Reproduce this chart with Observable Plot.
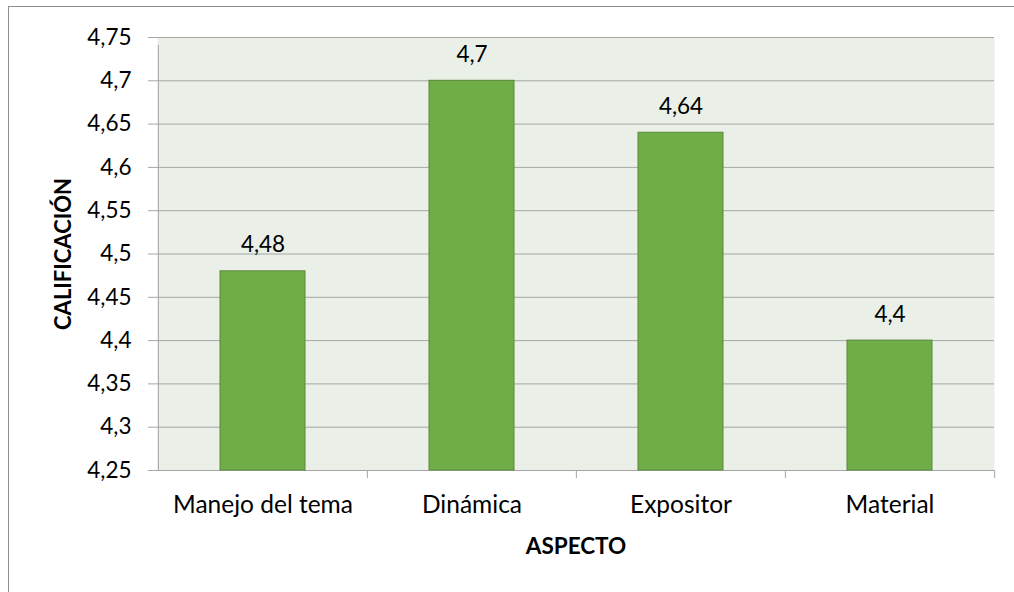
<!DOCTYPE html>
<html>
<head>
<meta charset="utf-8">
<script src="https://cdn.jsdelivr.net/npm/d3@7"></script>
<script src="https://cdn.jsdelivr.net/npm/@observablehq/plot@0.6"></script>
<style>
  html, body { margin: 0; padding: 0; background: #fff; overflow: hidden; }
  #wrap { position: relative; width: 1014px; height: 592px; }
  #border { position: absolute; left: 8px; top: 6px; width: 1100px; height: 700px; border: 1px solid #8c8c8c; pointer-events: none; }
  #chart { position: absolute; left: 0; top: 0; }
</style>
</head>
<body>
<div id="wrap"><div id="border"></div><div id="chart"></div></div>
<script>
const categories = ["Manejo del tema", "Dinámica", "Expositor", "Material"];
const values = [4.48, 4.7, 4.64, 4.4];
const valueLabels = ["4,48", "4,7", "4,64", "4,4"];
const yTicks = [4.25, 4.3, 4.35, 4.4, 4.45, 4.5, 4.55, 4.6, 4.65, 4.7, 4.75];
const yTickLabels = ["4,25", "4,3", "4,35", "4,4", "4,45", "4,5", "4,55", "4,6", "4,65", "4,7", "4,75"];
const yTitle = "CALIFICACIÓN";
const xTitle = "ASPECTO";

const W = 1014, H = 592, ML = 157, MR = 20, MT = 37, MB = 122;
const step = (W - ML - MR) / categories.length;
const data = categories.map((c, i) => ({cat: c, value: values[i], label: valueLabels[i]}));
const grid = "#a6a6a6";
const font = "Lato";

const chart = Plot.plot({
  width: W, height: H,
  marginLeft: ML, marginRight: MR, marginTop: MT, marginBottom: MB,
  style: {fontFamily: font, fontSize: "22px", color: "#000", background: "transparent"},
  x: {domain: categories, paddingInner: 0.594, paddingOuter: 0.297, label: null},
  y: {domain: [4.25, 4.75], label: null},
  marks: [
    Plot.frame({fill: "#eaefe7", stroke: null}),
    Plot.ruleY(yTicks, {stroke: grid, strokeWidth: 1}),
    Plot.axisY({ticks: yTicks, tickFormat: (d) => yTickLabels[yTicks.indexOf(d)], tickSize: 9, tickPadding: 17, stroke: grid, fontSize: 22.5, label: null}),
    Plot.axisX({tickSize: 0, tickPadding: 25, fontSize: 24.5, label: null}),
    Plot.ruleX([categories[0]], {x: (d) => d, y1: 4.25, y2: 4.75, dx: -step / 2, stroke: grid, insetBottom: -8}),
    Plot.ruleX(categories.slice(1), {x: (d) => d, y1: 4.25, y2: 4.25, dx: -step / 2, stroke: grid, insetBottom: -8}),
    Plot.ruleX([categories[categories.length - 1]], {x: (d) => d, y1: 4.25, y2: 4.25, dx: step / 2, stroke: grid, insetBottom: -8}),
    Plot.barY(data, {x: "cat", y1: 4.25, y2: "value", fill: "#70ad47", stroke: "#5a8a3a", strokeWidth: 1}),
    Plot.text(data, {x: "cat", y: "value", text: "label", dy: -19, lineAnchor: "bottom", fontSize: 22.5, fill: "#000"}),
    Plot.text([yTitle], {frameAnchor: "left", textAnchor: "middle", rotate: -90, dx: -94, fontSize: 22, fontWeight: "bold", fill: "#000"}),
    Plot.text([xTitle], {frameAnchor: "bottom", textAnchor: "middle", dy: 83, fontSize: 22.5, fontWeight: "bold", fill: "#000"})
  ]
});
document.getElementById("chart").appendChild(chart);
</script>
</body>
</html>
